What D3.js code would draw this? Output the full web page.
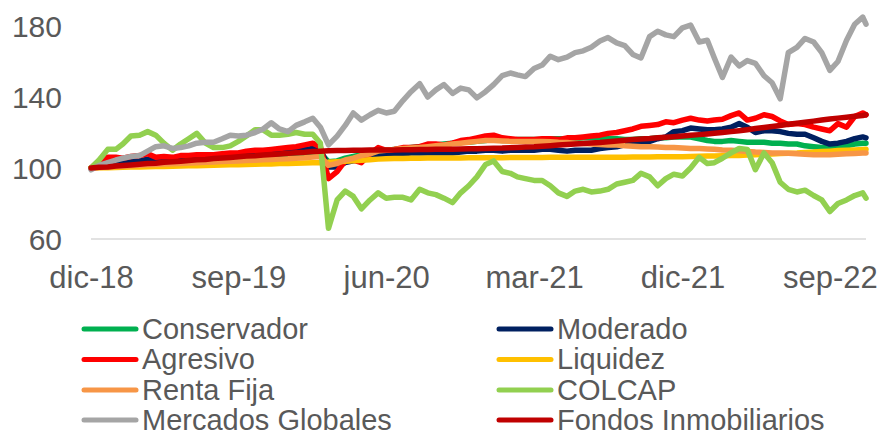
<!DOCTYPE html>
<html>
<head>
<meta charset="utf-8">
<script src="https://cdn.jsdelivr.net/npm/d3@7/dist/d3.min.js"></script>
<style>
  body { margin: 0; background: #fff; }
  svg text { font-family: "Liberation Sans", Arial, sans-serif; fill: #595959; }
</style>
</head>
<body>
<svg id="chart" width="885" height="437"></svg>
<script>
// Index values (base 100 = 31-dic-18), sampled mid-month and end of month.
const conservador = [100,101,101.5,102,102,102.5,103,103,103.5,103.5,
  104,104,104.5,104.5,105,105,105.5,105.5,106,106.5,
  106.5,107,107,107.5,107.5,108,108,108.5,108.5,103.5,
  104,105.5,106.5,107.5,108.5,109.5,110,110.5,111,111.5,
  112,112.5,113,113.5,114,114.5,114.5,115,115.5,116,
  115.5,115.5,116,116,116,116,116.5,116.5,116.5,116.5,
  117,117,117,116.5,116.5,116,116,116.5,116.5,117,
  117,117.5,117.5,117.5,116.5,115.5,115,115,115.5,115,
  114.5,114.5,114.5,114,114,113.5,113.5,112.5,112,111.5,
  111.5,112,112.5,113.5,114,114];

const moderado = [100,101.5,102.5,103,103.5,103.5,104,105,105,105.5,
  105.5,105.5,106,106,106.5,106.5,107,107.5,107.5,108.5,
  108.5,109,109.5,109.5,110,110.5,110.5,111,110.5,100.5,
  100.5,103,104,105,106,107.5,107.5,108,108,108.5,
  108.5,108.5,108.5,108.5,108.5,109,109.5,109.5,110,110,
  109.5,110,110,110,110,110.5,110.5,110,109.5,110,
  110,110,111,111.5,112,113,113.5,114.5,115,116.5,
  117.5,120.5,121,122.5,122,121.5,121.5,122,123,125,
  123,120,121,121,120.5,119.5,119,119,117,115,
  113.5,114,115,116.5,117.5,117];

const agresivo = [100,104,106,106,105.5,106.5,107,108,106,106.5,
  106,107,107,107.5,107.5,107.5,108,108.5,108.5,109.5,
  110,110,110.5,111,111.5,112,113,114,112,94,
  98,104,104.5,103,108,111.5,110,110.5,111.5,111.5,
  112,113.5,113.5,113,114,115.5,116,117,118,118.5,
  117,116.5,116,116,116,116.5,116.5,116,117,117,
  117.5,118,118.5,119.5,120,121,122,123.5,124,124.5,
  126,125.5,127,128,127,126.5,127,127.5,129.5,131,
  127,128,130,129,126.5,124.5,125,124.5,123,122,
  121,125,123,129,131,130];

const liquidez = [100,100.1,100.2,100.3,100.4,100.5,100.6,100.7,100.8,100.9,
  101,101.1,101.2,101.3,101.4,101.5,101.7,101.8,101.9,102,
  102.1,102.2,102.3,102.5,102.6,102.7,102.8,102.9,103,103.2,
  103.5,103.8,104.1,104.4,104.7,105,105.2,105.3,105.4,105.5,
  105.5,105.6,105.6,105.7,105.7,105.7,105.8,105.8,105.8,105.8,
  105.8,105.9,105.9,105.9,105.9,105.9,106,106,106,106,
  106,106,106.1,106.1,106.1,106.1,106.2,106.2,106.2,106.3,
  106.3,106.4,106.4,106.5,106.6,106.7,106.8,106.9,107,107.1,
  107.3,107.5,107.7,107.9,108.1,108.3,108.5,108.8,109,109.3,
  109.5,109.8,110,110.2,110.4,110.5];

const rentaFija = [100,100.3,100.5,100.8,101,101.3,101.5,101.8,102,102.2,
  102.4,102.6,102.8,103,103.2,103.4,103.6,103.8,104,104.2,
  104.4,104.6,104.8,105,105.2,105.5,105.8,106.2,106.5,101.5,
  102.5,104.5,105.5,107,108,109.5,110,110.5,111,111.3,
  111.5,112,112.5,113,113.5,114,114.5,115,115.5,115.5,
  115.2,115,115,115,115,115,114.8,114.5,114.3,114,
  113.8,113.5,113.3,113,113,112.5,112.3,112,112,111.8,
  111.5,111.5,111.3,111,111,110.7,110.5,110.2,110,109.7,
  109.3,109,108.8,108.5,108.5,108.3,108,107.8,107.5,107.5,
  107.5,107.8,108,108.2,108.5,108.5];

const colcap = [100,104.5,110.5,110.5,113.5,118,118.5,120.5,118.5,114,
  110,113.5,116.5,119.5,114,111.5,111.5,112.5,115,118,
  121.5,121.5,118.5,118.5,119,120,119,119,114,66,
  82,87,84,77,82,86,83,83.5,83.5,82,
  88,86,85,83,80.5,86,90,95,102,104,
  98,97,95,94,93,93,90,86,84,87,
  88,86.5,87,88,91,92,93,97,95,90,
  94,96.5,95.5,100,106,102.5,103,105.5,108.5,111,
  110.5,99,108.5,103,92,88,86.5,87.5,84.5,82,
  75.5,80,82,84.5,86,83];

const mercadosGlobales = [99,101.5,103,104.5,105.5,106.5,107,109.5,112,112.5,
  111,111.5,112.5,114,114.5,114.5,116.5,118.5,118,118.5,
  120,122,125.5,122,120.5,124,126,128,123,113,
  118,124,131,127,130,132.5,131,132,138,143,
  147.5,140,144,147,142,145,144,139.5,143,147,
  152,153.5,152.5,151.5,156,158,163,161,162.5,165,
  166,168,171.5,173.5,170.5,169,164,162,174,177,
  175,174,179,180.5,171,172,162,151,162.5,157.5,
  160.5,159,152,148,139,165,168,173,171,165,
  155,160,172,181,185,181];

const fondosInmobiliarios = [100,100.4,100.6,101.1,101.4,101.7,102.1,102.5,102.7,103.2,
  103.5,103.8,104.2,104.6,104.8,105.3,105.6,105.9,106.3,106.7,
  106.9,107.3,107.6,107.9,108.3,108.6,108.9,109.3,109.5,109.7,
  109.8,109.9,110,110,110.1,110.1,110.2,110.2,110.3,110.3,
  110.4,110.4,110.5,110.5,110.6,110.7,110.8,110.9,111,111.1,
  111.2,111.4,111.6,111.8,112,112.3,112.6,112.9,113.2,113.5,
  113.8,114.1,114.4,114.8,115.2,115.6,116,116.3,116.6,117,
  117.3,117.6,118,118.4,118.8,119.2,119.6,120,120.5,121,
  121.6,122.2,122.8,123.4,124,124.6,125.2,125.8,126.4,127,
  127.6,128.1,128.6,129.1,129.6,130];

const seriesNames = ["Conservador","Moderado","Agresivo","Liquidez","Renta Fija",
  "COLCAP","Mercados Globales","Fondos Inmobiliarios"];
const seriesValues = [conservador, moderado, agresivo, liquidez, rentaFija,
  colcap, mercadosGlobales, fondosInmobiliarios];
const seriesColors = ["#00B050","#002060","#FF0000","#FFC000","#F79646",
  "#92D050","#A5A5A5","#C00000"];

const tickDates = ["2018-12-31","2019-09-30","2020-06-30","2021-03-31","2021-12-31","2022-09-30"];
const tickLabels = ["dic-18","sep-19","jun-20","mar-21","dic-21","sep-22"];
const yTicks = [60, 100, 140, 180];

// Observation dates: 31-dic-18, then the 15th and last day of each month, last one 6-dic-22.
const dates = [new Date(2018, 11, 31)];
for (let m = 1; m <= 47; m++) {
  dates.push(new Date(2018, 11 + m, 15));
  dates.push(new Date(2018, 12 + m, 0));
}
dates.push(new Date(2022, 11, 6));

const parse = d3.timeParse("%Y-%m-%d");
const svg = d3.select("#chart");

const x = d3.scaleTime()
  .domain([dates[0], dates[dates.length - 1]])
  .range([91, 866]);
const y = d3.scaleLinear().domain([60, 180]).range([239, 26]);

// baseline at 60
svg.append("line")
  .attr("x1", 91).attr("x2", 866)
  .attr("y1", y(60)).attr("y2", y(60))
  .attr("stroke", "#D9D9D9").attr("stroke-width", 1.5);

// y axis labels
const yAxis = svg.append("g")
  .attr("transform", "translate(91,0)")
  .call(d3.axisLeft(y).tickValues(yTicks).tickSize(0).tickPadding(29));
yAxis.select(".domain").remove();
yAxis.selectAll("text")
  .style("font-size", "30px")
  .attr("fill", "#595959")
  .attr("dy", "0.35em");

// x axis labels
const xAxis = svg.append("g")
  .attr("transform", `translate(0,${y(60)})`)
  .call(d3.axisBottom(x)
    .tickValues(tickDates.map(parse))
    .tickFormat((d, i) => tickLabels[i])
    .tickSize(0).tickPadding(27));
xAxis.select(".domain").remove();
xAxis.selectAll("text")
  .style("font-size", "31px")
  .attr("fill", "#595959");

// series lines, drawn in legend order (last on top)
const line = d3.line()
  .x((d, i) => x(dates[i]))
  .y(d => y(d));

svg.append("g").selectAll("path")
  .data(seriesValues)
  .join("path")
  .attr("d", line)
  .attr("fill", "none")
  .attr("stroke", (d, i) => seriesColors[i])
  .attr("stroke-width", 5.5)
  .attr("stroke-linejoin", "round")
  .attr("stroke-linecap", "round");

// legend: two columns, four rows
const legendCols = [82, 497];
const legendRows = [329, 359.5, 390, 420];
const legend = svg.append("g");
seriesNames.forEach((name, i) => {
  const lx = legendCols[i % 2];
  const ly = legendRows[Math.floor(i / 2)];
  legend.append("line")
    .attr("x1", lx + 2).attr("x2", lx + 54)
    .attr("y1", ly).attr("y2", ly)
    .attr("stroke", seriesColors[i])
    .attr("stroke-width", 5)
    .attr("stroke-linecap", "round");
  legend.append("text")
    .attr("x", lx + 60).attr("y", ly + 9.5)
    .style("font-size", "29px")
    .text(name);
});
</script>
</body>
</html>
